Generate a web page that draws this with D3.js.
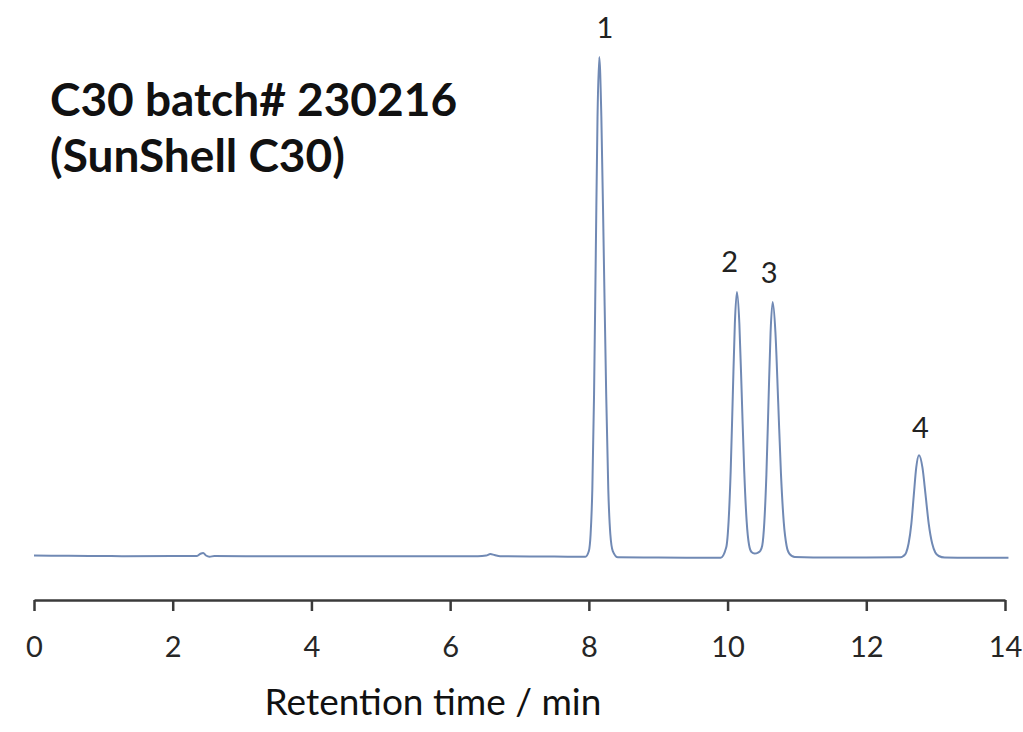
<!DOCTYPE html>
<html>
<head>
<meta charset="utf-8">
<script src="https://cdn.jsdelivr.net/npm/d3@7"></script>
<style>
  html, body { margin: 0; padding: 0; background: #ffffff; }
  svg { display: block; }
</style>
</head>
<body>
<svg id="chart" width="1023" height="732"></svg>
<script>
// ---- Data ----
const traceTime = [
  0.00, 0.50, 1.00, 1.30, 2.00, 2.35, 2.40, 2.44, 2.48, 2.53, 2.60, 3.50, 4.50, 5.50, 6.40, 6.52, 6.58, 6.64, 6.72, 7.50, 7.95,
  8.00, 8.025, 8.05, 8.075, 8.10, 8.125, 8.15, 8.18, 8.215, 8.25, 8.28, 8.31, 8.345, 8.42,
  9.00, 9.50, 9.90, 9.98, 10.015, 10.045, 10.075, 10.105, 10.135, 10.17, 10.205, 10.24, 10.275, 10.31, 10.345, 10.39,
  10.44, 10.47, 10.50, 10.53, 10.56, 10.59, 10.62, 10.65, 10.69, 10.73, 10.77, 10.81, 10.85, 10.89, 10.97,
  11.50, 12.00, 12.50, 12.535, 12.575, 12.61, 12.65, 12.685, 12.72, 12.76, 12.81, 12.855, 12.90, 12.95, 12.995, 13.045, 13.13,
  13.50, 14.05
];
const traceSignal = [
  0.1, 0.05, 0.0, -0.05, 0.0, 0.0, 0.45, 0.6, 0.1, -0.15, 0.0, -0.05, -0.05, -0.05, -0.05, 0.1, 0.4, 0.2, -0.05, -0.1, -0.15,
  1.0, 4.3, 13.4, 32.4, 60.6, 88.1, 100.0, 88.1, 60.6, 32.4, 13.4, 4.3, 1.0, -0.25,
  -0.3, -0.35, -0.35, 1.7, 7.0, 17.1, 32.0, 46.6, 52.9, 46.6, 32.0, 17.1, 7.0, 2.2, 0.8, 0.5,
  0.7, 1.0, 2.1, 6.8, 16.4, 30.8, 44.8, 50.9, 44.8, 30.8, 16.4, 6.8, 2.1, 0.5, -0.2,
  -0.3, -0.3, -0.25, 0.0, 0.7, 2.5, 6.5, 12.2, 17.7, 20.2, 17.7, 12.2, 6.5, 2.5, 0.7, 0.0, -0.3,
  -0.35, -0.35
];
const peakLabels = ["1", "2", "3", "4"];
const peakLabelTime = [8.23, 10.03, 10.60, 12.78];
const peakLabelSignal = [103.8, 56.9, 54.7, 23.6];
const xTicks = [0, 2, 4, 6, 8, 10, 12, 14];
const titleLines = ["C30 batch# 230216", "(SunShell C30)"];
const xAxisTitle = "Retention time / min";

// ---- Layout ----
const svg = d3.select("#chart");
const x = d3.scaleLinear().domain([0, 14]).range([34, 1005]);
const y = d3.scaleLinear().domain([0, 100]).range([556, 57]);
const axisY = 600;
const font = "Lato, 'Open Sans', sans-serif";

const points = traceTime.map((t, i) => [t, traceSignal[i]]);

// trace
svg.append("path")
  .datum(points)
  .attr("fill", "none")
  .attr("stroke", "#7089b4")
  .attr("stroke-width", 2)
  .attr("stroke-linejoin", "round")
  .attr("d", d3.line().x(d => x(d[0])).y(d => y(d[1])).curve(d3.curveMonotoneX));

// x axis
const axis = d3.axisBottom(x).tickValues(xTicks).tickSize(11).tickSizeOuter(0).tickPadding(25)
  .tickFormat(d3.format("d"));
const gAxis = svg.append("g").attr("transform", `translate(0,${axisY})`).call(axis);
gAxis.select(".domain").attr("stroke", "#3a3a3a").attr("stroke-width", 2.5);
gAxis.selectAll(".tick line").attr("stroke", "#3a3a3a").attr("stroke-width", 2.5);
gAxis.selectAll(".tick text")
  .attr("fill", "#262626")
  .style("font-family", font)
  .style("font-size", "29px");

// axis title
svg.append("text")
  .attr("x", 433).attr("y", 715)
  .attr("text-anchor", "middle")
  .attr("fill", "#111")
  .style("font-family", font)
  .style("font-size", "37px")
  .text(xAxisTitle);

// title
svg.append("g").selectAll("text")
  .data(titleLines)
  .join("text")
  .attr("x", 50)
  .attr("y", (d, i) => 116 + i * 56)
  .attr("fill", "#111")
  .style("font-family", font)
  .style("font-weight", "bold")
  .style("font-size", "46px")
  .text(d => d);

// peak labels
svg.append("g").selectAll("text")
  .data(peakLabels)
  .join("text")
  .attr("x", (d, i) => x(peakLabelTime[i]))
  .attr("y", (d, i) => y(peakLabelSignal[i]))
  .attr("text-anchor", "middle")
  .attr("fill", "#222")
  .style("font-family", font)
  .style("font-size", "29px")
  .text(d => d);
</script>
</body>
</html>
